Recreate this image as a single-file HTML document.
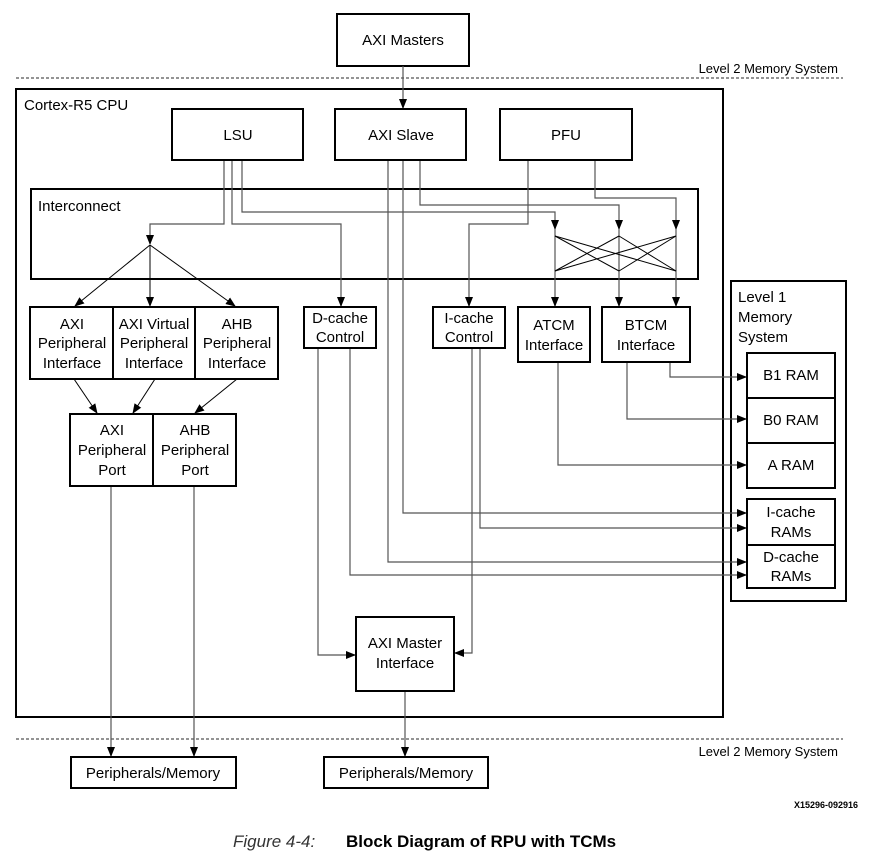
<!DOCTYPE html>
<html><head><meta charset="utf-8"><style>
html,body{margin:0;padding:0;background:#fff;}
svg{display:block;font-family:"Liberation Sans",Arial,sans-serif;}
.b{fill:#fff;stroke:#000;stroke-width:2;}
.l{fill:none;stroke:#555;stroke-width:1.2;}
.k{fill:none;stroke:#000;stroke-width:1;}
text{font-size:15px;fill:#000;}
.c{text-anchor:middle;}
</style></head><body>
<svg width="876" height="859" viewBox="0 0 876 859">
<defs>
<marker id="a" markerWidth="10" markerHeight="10" refX="9" refY="5" orient="auto" markerUnits="userSpaceOnUse">
<path d="M0,1 L10,5 L0,9 Z" fill="#000"/></marker>
</defs>
<!-- dashed lines -->
<line x1="16" y1="78" x2="843" y2="78" stroke="#555" stroke-width="1.2" stroke-dasharray="3,2"/>
<line x1="16" y1="739" x2="843" y2="739" stroke="#555" stroke-width="1.2" stroke-dasharray="3,2"/>
<text x="838" y="73" text-anchor="end" style="font-size:13px">Level 2 Memory System</text>
<text x="838" y="756" text-anchor="end" style="font-size:13px">Level 2 Memory System</text>

<rect class="b" x="337" y="14" width="132" height="52"/>
<text class="c" x="403" y="45">AXI Masters</text>

<!-- CPU -->
<rect class="b" x="16" y="89" width="707" height="628"/>
<text x="24" y="110">Cortex-R5 CPU</text>
<line class="l" x1="403" y1="66" x2="403" y2="108" marker-end="url(#a)"/>

<!-- Level1 -->
<rect class="b" x="731" y="281" width="115" height="320"/>
<text x="738" y="302">Level 1</text>
<text x="738" y="322">Memory</text>
<text x="738" y="342">System</text>

<!-- interconnect -->
<rect class="b" x="31" y="189" width="667" height="90"/>
<text x="38" y="211">Interconnect</text>

<!-- lines -->
<g class="l">
<polyline points="224,160 224,224 150,224 150,244" marker-end="url(#a)"/>
<polyline points="232,160 232,224 341,224 341,306" marker-end="url(#a)"/>
<polyline points="242,160 242,212 555,212 555,229" marker-end="url(#a)"/>
<line x1="555" y1="229" x2="555" y2="306" marker-end="url(#a)"/>
<polyline points="420,160 420,205 619,205 619,229" marker-end="url(#a)"/>
<line x1="619" y1="229" x2="619" y2="306" marker-end="url(#a)"/>
<polyline points="595,160 595,198 676,198 676,229" marker-end="url(#a)"/>
<line x1="676" y1="229" x2="676" y2="306" marker-end="url(#a)"/>
<polyline points="528,160 528,224 469,224 469,306" marker-end="url(#a)"/>
<polyline points="403,160 403,513 746,513" marker-end="url(#a)"/>
<polyline points="388,160 388,562 746,562" marker-end="url(#a)"/>
<polyline points="480,348 480,528 746,528" marker-end="url(#a)"/>
<polyline points="350,348 350,575 746,575" marker-end="url(#a)"/>
<polyline points="670,362 670,377 746,377" marker-end="url(#a)"/>
<polyline points="627,362 627,419 746,419" marker-end="url(#a)"/>
<polyline points="558,362 558,465 746,465" marker-end="url(#a)"/>
<polyline points="318,348 318,655 355,655" marker-end="url(#a)"/>
<polyline points="472,348 472,653 455,653" marker-end="url(#a)"/>
<line x1="111" y1="486" x2="111" y2="756" marker-end="url(#a)"/>
<line x1="194" y1="486" x2="194" y2="756" marker-end="url(#a)"/>
<line x1="405" y1="691" x2="405" y2="756" marker-end="url(#a)"/>
</g>
<g class="k">
<line x1="555" y1="236" x2="619" y2="271"/><line x1="555" y1="236" x2="676" y2="271"/>
<line x1="619" y1="236" x2="555" y2="271"/><line x1="619" y1="236" x2="676" y2="271"/>
<line x1="676" y1="236" x2="555" y2="271"/><line x1="676" y1="236" x2="619" y2="271"/>
<line x1="150" y1="245" x2="75" y2="306" marker-end="url(#a)"/>
<line x1="150" y1="245" x2="150" y2="306" marker-end="url(#a)"/>
<line x1="150" y1="245" x2="235" y2="306" marker-end="url(#a)"/>
<line x1="74" y1="379" x2="97" y2="413" marker-end="url(#a)"/>
<line x1="155" y1="379" x2="133" y2="413" marker-end="url(#a)"/>
<line x1="237" y1="379" x2="195" y2="413" marker-end="url(#a)"/>
</g>

<!-- top boxes -->
<rect class="b" x="172" y="109" width="131" height="51"/><text class="c" x="238" y="140">LSU</text>
<rect class="b" x="335" y="109" width="131" height="51"/><text class="c" x="401" y="140">AXI Slave</text>
<rect class="b" x="500" y="109" width="132" height="51"/><text class="c" x="566" y="140">PFU</text>

<!-- periph interfaces -->
<rect class="b" x="30" y="307" width="83" height="72"/>
<rect class="b" x="113" y="307" width="82" height="72"/>
<rect class="b" x="195" y="307" width="83" height="72"/>
<text class="c" x="72" y="329">AXI</text><text class="c" x="72" y="348">Peripheral</text><text class="c" x="72" y="368">Interface</text>
<text class="c" x="154" y="329">AXI Virtual</text><text class="c" x="154" y="348">Peripheral</text><text class="c" x="154" y="368">Interface</text>
<text class="c" x="237" y="329">AHB</text><text class="c" x="237" y="348">Peripheral</text><text class="c" x="237" y="368">Interface</text>

<rect class="b" x="70" y="414" width="83" height="72"/>
<rect class="b" x="153" y="414" width="83" height="72"/>
<text class="c" x="112" y="435">AXI</text><text class="c" x="112" y="455">Peripheral</text><text class="c" x="112" y="475">Port</text>
<text class="c" x="195" y="435">AHB</text><text class="c" x="195" y="455">Peripheral</text><text class="c" x="195" y="475">Port</text>

<rect class="b" x="304" y="307" width="72" height="41"/>
<text class="c" x="340" y="323">D-cache</text><text class="c" x="340" y="342">Control</text>
<rect class="b" x="433" y="307" width="72" height="41"/>
<text class="c" x="469" y="323">I-cache</text><text class="c" x="469" y="342">Control</text>
<rect class="b" x="518" y="307" width="72" height="55"/>
<text class="c" x="554" y="330">ATCM</text><text class="c" x="554" y="350">Interface</text>
<rect class="b" x="602" y="307" width="88" height="55"/>
<text class="c" x="646" y="330">BTCM</text><text class="c" x="646" y="350">Interface</text>

<!-- RAMs -->
<rect class="b" x="747" y="353" width="88" height="45"/><text class="c" x="791" y="380">B1 RAM</text>
<rect class="b" x="747" y="398" width="88" height="45"/><text class="c" x="791" y="425">B0 RAM</text>
<rect class="b" x="747" y="443" width="88" height="45"/><text class="c" x="791" y="470">A RAM</text>
<rect class="b" x="747" y="499" width="88" height="46"/><text class="c" x="791" y="517">I-cache</text><text class="c" x="791" y="537">RAMs</text>
<rect class="b" x="747" y="545" width="88" height="43"/><text class="c" x="791" y="562">D-cache</text><text class="c" x="791" y="581">RAMs</text>

<rect class="b" x="356" y="617" width="98" height="74"/>
<text class="c" x="405" y="648">AXI Master</text><text class="c" x="405" y="668">Interface</text>

<rect class="b" x="71" y="757" width="165" height="31"/><text class="c" x="153" y="778">Peripherals/Memory</text>
<rect class="b" x="324" y="757" width="164" height="31"/><text class="c" x="406" y="778">Peripherals/Memory</text>

<text x="858" y="808" text-anchor="end" style="font-size:9px;font-weight:bold">X15296-092916</text>
<text x="233" y="847" style="font-size:17px;font-style:italic;fill:#333">Figure 4-4:</text>
<text x="346" y="847" style="font-size:17px;font-weight:bold">Block Diagram of RPU with TCMs</text>
</svg>
</body></html>
